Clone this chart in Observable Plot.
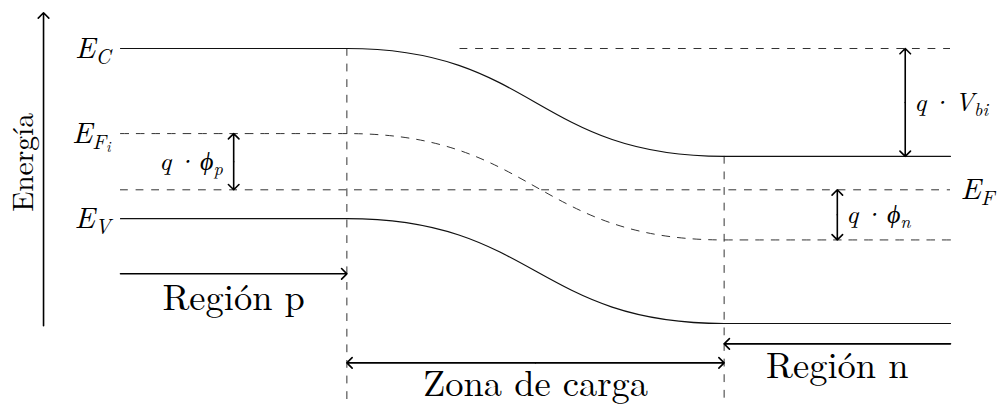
<!DOCTYPE html>
<html><head><meta charset="utf-8">
<script src="https://cdn.jsdelivr.net/npm/d3@7"></script>
<script src="https://cdn.jsdelivr.net/npm/@observablehq/plot@0.6"></script>
<style>
body{margin:0;background:#fff}
#chart svg{display:block;background:#fff}
</style>
</head><body><div id="chart"></div>
<script>
// Position along the junction (arbitrary length units): left edge, depletion start, depletion end, right edge
const xPos = [0, 3, 8, 11];
// Band energies (eV, relative to the Fermi level E_F = 0)
const Ec  = [0.93, 0.93, 0.22, 0.22];
const Efi = [0.37, 0.37, -0.33, -0.33];
const Ev  = [-0.19, -0.19, -0.88, -0.88];
const Ef  = 0;
// Reference dashed line for the p-side conduction band (start position)
const ecRefStart = 4.5;
// Energy axis and annotation levels
const axisX = -1.02, axisBottom = -0.895, axisTop = 1.165;
const bottomY = -1.39;
const regionPArrowY = -0.553, regionNArrowY = -1.014, zonaArrowY = -1.139;
const regionPTextY = -0.711, regionNTextY = -1.16, zonaTextY = -1.28;
const phiPx = 1.5, vbiX = 10.4, phiNx = 9.5;
// Texts
const levelLabels = ["E_C", "E_F_i", "E_V"];
const fermiLabel = "E_F";
const regionLabels = ["Región p", "Zona de carga", "Región n"];
const axisLabel = "Energía";
const deltaLabels = ["q · ϕ_p", "q · V_bi", "q · ϕ_n"];

const solidBands = [
  ...xPos.map((x, i) => ({x, e: Ec[i], band: "Ec"})),
  ...xPos.map((x, i) => ({x, e: Ev[i], band: "Ev"}))
];
const fiBand = xPos.map((x, i) => ({x, e: Efi[i]}));

const dash = "7.8,7.8";
const serif = "Latin Modern Roman";

function dbl(x1, y1, x2, y2) {
  const mx = (x1 + x2) / 2, my = (y1 + y2) / 2;
  return [{x1: mx, y1: my, x2: x1, y2: y1}, {x1: mx, y1: my, x2: x2, y2: y2}];
}
const singleArrows = [
  {x1: axisX, y1: axisBottom, x2: axisX, y2: axisTop},
  {x1: xPos[0], y1: regionPArrowY, x2: xPos[1], y2: regionPArrowY},
  {x1: xPos[3], y1: regionNArrowY, x2: xPos[2], y2: regionNArrowY}
];
const doubleArrows = [
  ...dbl(xPos[1], zonaArrowY, xPos[2], zonaArrowY),
  ...dbl(phiPx, Ef, phiPx, Efi[0]),
  ...dbl(vbiX, Ec[3], vbiX, Ec[0]),
  ...dbl(phiNx, Efi[3], phiNx, Ef)
];

const chart = Plot.plot({
  width: 998,
  height: 407,
  marginLeft: 120,
  marginRight: 48,
  marginTop: 48,
  marginBottom: 84,
  x: {domain: [0, 11], axis: null},
  y: {domain: [Ev[3], Ec[0]], axis: null},
  style: {background: "#fff", overflow: "visible", fontFamily: serif},
  marks: [
    Plot.ruleX([{x: xPos[1], y1: Ec[1], y2: bottomY}, {x: xPos[2], y1: Ec[2], y2: bottomY}],
      {x: "x", y1: "y1", y2: "y2", stroke: "#333", strokeWidth: 1, strokeDasharray: dash}),
    Plot.ruleY([Ef], {x1: xPos[0], x2: xPos[3], stroke: "#333", strokeWidth: 1, strokeDasharray: dash}),
    Plot.ruleY([Ec[0]], {x1: ecRefStart, x2: xPos[3], stroke: "#333", strokeWidth: 1, strokeDasharray: dash}),
    Plot.line(fiBand, {x: "x", y: "e", curve: "bump-x", stroke: "#333", strokeWidth: 1, strokeDasharray: dash}),
    Plot.line(solidBands, {x: "x", y: "e", z: "band", curve: "bump-x", stroke: "#111", strokeWidth: 1.2}),
    Plot.arrow(singleArrows, {x1: "x1", y1: "y1", x2: "x2", y2: "y2", stroke: "#000", strokeWidth: 1.6, headAngle: 90, headLength: 7}),
    Plot.arrow(doubleArrows, {x1: "x1", y1: "y1", x2: "x2", y2: "y2", stroke: "#000", strokeWidth: 1.6, headAngle: 90, headLength: 7}),
    Plot.text(levelLabels, {x: xPos[0], y: [Ec[0], Efi[0], Ev[0]], text: d => d, textAnchor: "end", dx: -10,
      fontFamily: serif, fontStyle: "italic", fontSize: 30, fill: "#000"}),
    Plot.text([fermiLabel], {x: xPos[3], y: Ef, text: d => d, textAnchor: "start", dx: 10,
      fontFamily: serif, fontStyle: "italic", fontSize: 30, fill: "#000"}),
    Plot.text([deltaLabels[0]], {x: phiPx, y: (Ef + Efi[0]) / 2, text: d => d, textAnchor: "end", dx: -11,
      fontFamily: serif, fontStyle: "italic", fontSize: 26, fill: "#000"}),
    Plot.text([deltaLabels[1]], {x: vbiX, y: (Ec[3] + Ec[0]) / 2, text: d => d, textAnchor: "start", dx: 9,
      fontFamily: serif, fontStyle: "italic", fontSize: 26, fill: "#000"}),
    Plot.text([deltaLabels[2]], {x: phiNx, y: (Efi[3] + Ef) / 2, text: d => d, textAnchor: "start", dx: 9,
      fontFamily: serif, fontStyle: "italic", fontSize: 26, fill: "#000"}),
    Plot.text(regionLabels, {x: [1.5, 5.5, 9.5], y: [regionPTextY, zonaTextY, regionNTextY], text: d => d,
      textAnchor: "middle", fontFamily: serif, fontSize: 36.5, fill: "#000"}),
    Plot.text([axisLabel], {x: -1.285, y: 0.18, text: d => d, rotate: -90, textAnchor: "middle",
      fontFamily: serif, fontSize: 29.5, fill: "#000"})
  ]
});

// render "_" as nested subscripts; narrower spaces around "·"
d3.select(chart).selectAll("text").each(function() {
  const t = this.textContent;
  if (!t.includes("_")) return;
  const g = this.closest("g[font-size]");
  const base = g ? parseFloat(g.getAttribute("font-size")) : 26;
  const parts = t.split("_");
  const sel = d3.select(this);
  sel.text(null);
  let size = base;
  parts.forEach((p, i) => {
    if (i === 0) {
      sel.append("tspan").text(p.replace(/ /g, "\u2006"));
    } else {
      const ts = sel.append("tspan").text(p);
      const shift = i === 1 ? 0.2 * size : 0.14 * size;
      size = size * 0.7;
      ts.attr("dy", shift).attr("font-size", size);
    }
  });
});

document.getElementById("chart").appendChild(chart);
</script>
</body></html>
